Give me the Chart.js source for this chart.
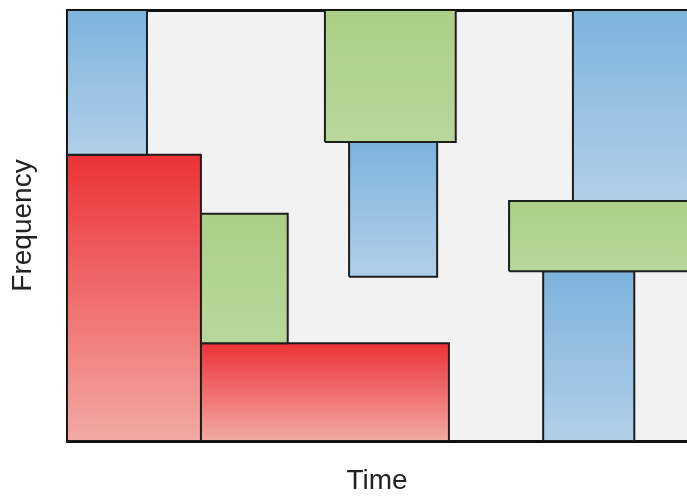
<!DOCTYPE html>
<html>
<head>
<meta charset="utf-8">
<script src="https://cdn.jsdelivr.net/npm/chart.js@4"></script>
<style>
  html, body { margin: 0; padding: 0; background: #ffffff; }
  canvas { display: block; }
</style>
</head>
<body>
<canvas id="grafico" width="687" height="498"></canvas>
<script>
// Bloques tiempo-frecuencia (unidades relativas 0-100, los de la derecha siguen fuera del eje)
const tipos = ['azul', 'rojo', 'verde', 'rojo', 'verde', 'azul', 'azul', 'verde', 'azul'];
const tiempoInicio = [0, 0, 21.6, 21.6, 41.6, 45.5, 81.6, 71.3, 76.8];
const tiempoFin = [12.9, 21.6, 35.6, 61.6, 62.7, 59.7, 103, 103, 91.5];
const frecBaja = [66.4, 0, 22.7, 0, 69.4, 38.1, 55.7, 39.4, 0];
const frecAlta = [100, 66.4, 52.7, 22.7, 100, 69.4, 100, 55.7, 39.4];

const colores = {
    azul: ['#7db3dc', '#b1cfe9'],
    rojo: ['#ec3237', '#f3aaa4'],
    verde: ['#abcf86', '#b8d79b']
};

function degradado(context) {
    const chart = context.chart;
    const i = context.datasetIndex;
    const par = colores[tipos[i]];
    if (!chart.chartArea) return par[0];
    const y = chart.scales.y;
    const g = chart.ctx.createLinearGradient(0, y.getPixelForValue(frecAlta[i]), 0, y.getPixelForValue(frecBaja[i]));
    g.addColorStop(0, par[0]);
    g.addColorStop(1, par[1]);
    return g;
}

const datasets = tipos.map((tipo, i) => ({
    label: tipo,
    data: [
        { x: tiempoInicio[i], y: frecBaja[i] },
        { x: tiempoInicio[i], y: frecAlta[i] },
        { x: tiempoFin[i], y: frecAlta[i] },
        { x: tiempoFin[i], y: frecBaja[i] },
        { x: tiempoInicio[i], y: frecBaja[i] }
    ],
    showLine: true,
    fill: 'shape',
    backgroundColor: degradado,
    borderColor: '#1e1e1e',
    borderWidth: 2,
    pointRadius: 0,
    pointHoverRadius: 0,
    tension: 0,
    clip: 0
}));

// fondo gris del área de dibujo
const fondo = {
    id: 'fondo',
    beforeDraw(chart) {
        const { ctx, chartArea } = chart;
        ctx.save();
        ctx.fillStyle = '#f2f2f2';
        ctx.fillRect(chartArea.left, chartArea.top, chartArea.right - chartArea.left, chartArea.bottom - chartArea.top);
        ctx.restore();
    }
};

new Chart(document.getElementById('grafico').getContext('2d'), {
    type: 'scatter',
    data: { datasets: datasets },
    options: {
        responsive: false,
        animation: false,
        events: [],
        layout: { padding: 0 },
        plugins: {
            legend: { display: false },
            tooltip: { enabled: false }
        },
        scales: {
            x: {
                type: 'linear',
                min: 0,
                max: 100,
                grid: { display: false },
                ticks: { display: false },
                border: { display: true, color: '#111111', width: 3 },
                title: {
                    display: true,
                    text: 'Time',
                    color: '#222222',
                    font: { family: 'Liberation Sans, Arial, sans-serif', size: 28 },
                    padding: { top: 0, bottom: 0 }
                },
                afterFit: s => { s.height = 57; }
            },
            x2: {
                type: 'linear',
                position: 'top',
                min: 0,
                max: 100,
                grid: { display: false },
                ticks: { display: false },
                border: { display: true, color: '#111111', width: 3 },
                afterFit: s => { s.height = 10; }
            },
            y: {
                type: 'linear',
                min: 0,
                max: 100,
                grid: { display: false },
                ticks: { display: false },
                border: { display: true, color: '#111111', width: 3 },
                title: {
                    display: true,
                    text: 'Frequency',
                    color: '#222222',
                    font: { family: 'Liberation Sans, Arial, sans-serif', size: 28 },
                    padding: { top: 6, bottom: 0 }
                },
                afterFit: s => { s.width = 67; }
            }
        }
    },
    plugins: [fondo]
});
</script>
</body>
</html>
